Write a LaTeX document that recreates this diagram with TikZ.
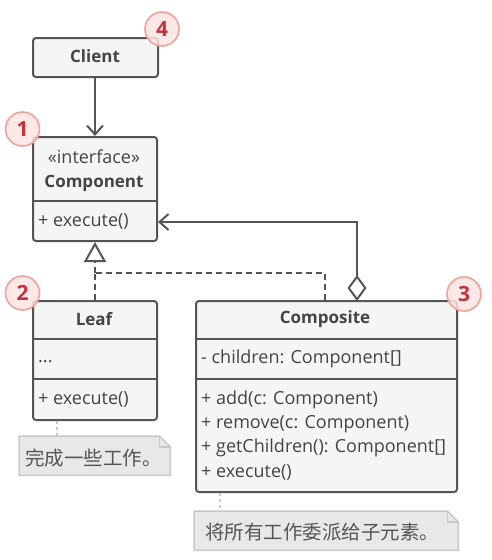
\documentclass[tikz,border=0pt]{standalone}
\usepackage{fontspec}
\setmainfont{Open Sans}
\newfontfamily\cjk{Noto Sans CJK SC}
\usetikzlibrary{arrows.meta}
\definecolor{ln}{HTML}{555555}
\definecolor{tx}{HTML}{444444}
\definecolor{bf}{HTML}{F5F5F5}
\definecolor{bfill}{HTML}{FCE4E2}
\definecolor{bline}{HTML}{F0A29D}
\definecolor{btext}{HTML}{C3323E}
\definecolor{nfill}{HTML}{E8E8E8}
\definecolor{nline}{HTML}{C8C8C8}
\definecolor{ntext}{HTML}{555555}
\begin{document}
\begin{tikzpicture}[x=1pt,y=-1pt,
  box/.style={draw=ln, line width=2pt, fill=bf, rounded corners=3pt, rectangle, inner sep=0pt, anchor=north west},
  txt/.style={text=tx, inner sep=0pt, font=\fontsize{18}{20}\selectfont},
  btxt/.style={txt, font=\fontsize{17}{20}\selectfont\bfseries},
  ltxt/.style={txt, anchor=west},
  divider/.style={draw=ln, line width=2pt},
  conn/.style={draw=ln, line width=2pt},
  dline/.style={draw=ln, line width=2pt, dash pattern=on 6pt off 4pt},
  badge/.style={circle, draw=bline, line width=1.6pt, fill=bfill, fill opacity=0.85, text opacity=1, minimum size=34pt, inner sep=0pt, text=btext, font=\fontsize{21}{21}\selectfont\bfseries},
  note/.style={draw=nline, line width=1.5pt, fill=nfill},
  noteframe/.style={rectangle, inner sep=0pt, anchor=north west, draw=none},
  ntxt/.style={text=ntext, inner sep=0pt, anchor=west, font=\cjk\fontsize{19.5}{21}\selectfont},
  nconn/.style={draw=nline, line width=1.5pt, dash pattern=on 3pt off 3pt}
]
\useasboundingbox (0,0) rectangle (491,560);
\fill[white] (0,0) rectangle (491,560);

% Client
\node[box, minimum width=125pt, minimum height=39pt] (client) at (32,37) {};
\node[btxt] (clientlbl) at (95,56) {Client};

% Component
\node[box, minimum width=124pt, minimum height=104pt] (comp) at (32,136) {};
\node[txt] (compst) at (94,157) {«interface»};
\node[btxt] (complbl) at (94,183) {Component};
\draw[divider] (comp.west |- 0,201) -- (comp.east |- 0,201);
\node[ltxt] (compop) at (38,221) {+ execute()};

% Leaf
\node[box, minimum width=124pt, minimum height=119pt] (leaf) at (32,300) {};
\node[btxt] (leaflbl) at (94,319) {Leaf};
\draw[divider] (leaf.west |- 0,339) -- (leaf.east |- 0,339);
\draw[divider] (leaf.west |- 0,379) -- (leaf.east |- 0,379);
\node[ltxt] (leafattr) at (38,362) {...};
\node[ltxt] (leafop) at (38,399) {+ execute()};

% Composite
\node[box, minimum width=261pt, minimum height=191pt] (composite) at (195,300) {};
\node[btxt] (complbl2) at (325,319) {Composite};
\draw[divider] (composite.west |- 0,339) -- (composite.east |- 0,339);
\draw[divider] (composite.west |- 0,379) -- (composite.east |- 0,379);
\node[ltxt] (cattr) at (201,359) {- children: Component[]};
\node[ltxt] (cop1) at (201,400) {+ add(c: Component)};
\node[ltxt] (cop2) at (201,424) {+ remove(c: Component)};
\node[ltxt] (cop3) at (201,448) {+ getChildren(): Component[]};
\node[ltxt] (cop4) at (201,472) {+ execute()};

% Client -> Component
\draw[conn, -{Straight Barb[length=9pt, width=16pt, line width=2pt]}] (client.south -| 95,0) -- (comp.north -| 95,0);

% realization
\coordinate (j) at (95,273);
\coordinate (cj) at (325,273);
\draw[dline] (composite.north -| cj) -- (cj) -- (j);
\draw[dline] (leaf.north -| j) -- (j);
\draw[dline, -{Triangle[open, length=20pt, width=22pt, fill=white, line width=2pt]}] (j) -- (comp.south -| j);

% aggregation
\coordinate (aggb) at (357,301);
\coordinate (aggc) at (357,222);
\draw[conn, {Diamond[open, length=26pt, width=19pt, fill=white, line width=2pt]}-{Straight Barb[length=9pt, width=16pt, line width=2pt]}] (aggb) -- (aggc) -- (comp.east |- aggc);

% notes
\node[noteframe, minimum width=151pt, minimum height=39pt] (n1) at (19,436) {};
\filldraw[note] (n1.north west) -- ([xshift=-11pt]n1.north east) -- ([yshift=-11pt]n1.north east) -- (n1.south east) -- (n1.south west) -- cycle;
\draw[note, fill=none] ([xshift=-11pt]n1.north east) |- ([yshift=-11pt]n1.north east);
\node[ntxt] (n1t) at (25,458) {完成一些工作。};
\draw[nconn] (leaf.south -| 57,0) -- (n1.north -| 57,0);

\node[noteframe, minimum width=264pt, minimum height=39pt] (n2) at (194,511) {};
\filldraw[note] (n2.north west) -- ([xshift=-11pt]n2.north east) -- ([yshift=-11pt]n2.north east) -- (n2.south east) -- (n2.south west) -- cycle;
\draw[note, fill=none] ([xshift=-11pt]n2.north east) |- ([yshift=-11pt]n2.north east);
\node[ntxt] (n2t) at (205,532) {将所有工作委派给子元素。};
\draw[nconn] (composite.south -| 220,0) -- (n2.north -| 220,0);

% badges
\node[badge] (b4) at (162,29) {4};
\node[badge] (b1) at (22.5,129) {1};
\node[badge] (b2) at (22.5,293) {2};
\node[badge] (b3) at (464,294) {3};
\end{tikzpicture}
\end{document}
